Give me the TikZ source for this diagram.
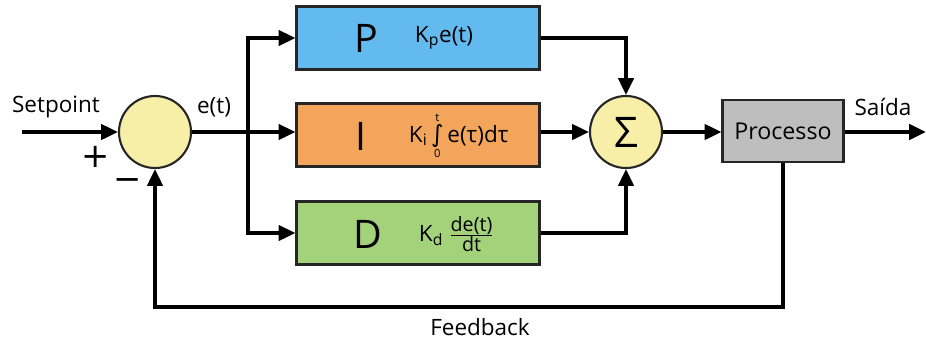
\documentclass[tikz,border=0pt]{standalone}
\usepackage{fontspec}
\setmainfont{Open Sans}
\newfontfamily\symfont{DejaVu Sans}
\usetikzlibrary{arrows.meta}

\definecolor{pblue}{RGB}{99,186,238}
\definecolor{iorange}{RGB}{243,165,92}
\definecolor{dgreen}{RGB}{163,210,122}
\definecolor{sumyellow}{RGB}{247,239,168}
\definecolor{procgray}{RGB}{190,190,190}

\newcommand{\limtxt}[1]{\mbox{\fontsize{8}{8}\selectfont #1}}

\tikzset{
  blk/.style={draw=black!85, line width=1.5pt, minimum width=6.075cm,
    minimum height=1.575cm, inner sep=0pt},
  sumnode/.style={circle, draw=black!85, fill=sumyellow, line width=1.5pt,
    minimum size=1.8cm, inner sep=0pt},
  wire/.style={line width=2.6pt, -{Triangle[length=4.2mm,width=3.8mm]}},
  plain/.style={line width=2.6pt},
  letter/.style={font=\fontsize{28}{30}\selectfont},
  sign/.style={font=\symfont\fontsize{24}{24}\selectfont},
}

\begin{document}
\begin{tikzpicture}[x=0.025cm,y=-0.025cm,font=\fontsize{16}{19}\selectfont]

      \useasboundingbox (0,0) rectangle (926,343);

      % blocks
      \node[sumnode] (err) at (155,132) {};
      \node[sumnode, font=\fontsize{30}{30}\selectfont] (sum) at (626,132) {Σ};
      \node[blk, fill=pblue] (p) at (418,38) {};
      \node[blk, fill=iorange] (i) at (418,135) {};
      \node[blk, fill=dgreen] (d) at (418,233) {};
      \node[blk, fill=procgray, minimum width=3.025cm, minimum height=1.55cm,
        font=\fontsize{16.5}{18}\selectfont] (proc) at (783,131) {Processo};

      % block texts
      \node[letter] (pname) at (366,38) {P};
      \node[letter] (iname) at (361,136) {I};
      \node[letter] (dname) at (368,234) {D};
      \node[anchor=west] (pform) at (410,38) {K\textsubscript{p}e(t)};
      \node[anchor=west] (iform) at (404,136)
        {K\textsubscript{i}\,$\mathop{\mbox{\symfont\fontsize{17}{17}\selectfont ∫}}\limits_{\limtxt{0}}^{\limtxt{t}}$\,e(τ)dτ};
      \node[anchor=west] (dform) at (414,234)
        {K\textsubscript{d} $\frac{\mbox{\fontsize{14}{14}\selectfont de(t)}}{\mbox{\fontsize{14}{14}\selectfont dt}}$};

      % labels
      \node (setpoint) at (56,107) {Setpoint};
      \node[sign] (plus) at (96,157) {+};
      \node[sign] (minus) at (128,185) {−};
      \node (et) at (214,107) {e(t)};
      \node (saida) at (883,107) {Saída};
      \node (feedback) at (480,327) {Feedback};

      \coordinate (in) at (22,132);
      \coordinate (out) at (926,132);
      \coordinate (split) at (248,132);
      \coordinate (fbturn) at (470,307);

      % connectors
      \draw[wire] (in) -- (err);
      \draw[wire] (err.east) -- (err.east -| i.west);
      \draw[plain] (split |- p.west) -- (split |- d.west);
      \draw[wire] (split) |- (p.west);
      \draw[wire] (split) |- (d.west);
      \draw[wire] (p.east) -| (sum.north);
      \draw[wire] (i.east |- sum.west) -- (sum.west);
      \draw[wire] (d.east) -| (sum.south);
      \draw[wire] (sum.east) -- (sum.east -| proc.west);
      \draw[wire] (proc.east |- out) -- (out);
      \draw[wire] (proc.south) |- (fbturn) -| (err.south);

    \end{tikzpicture}
\end{document}
